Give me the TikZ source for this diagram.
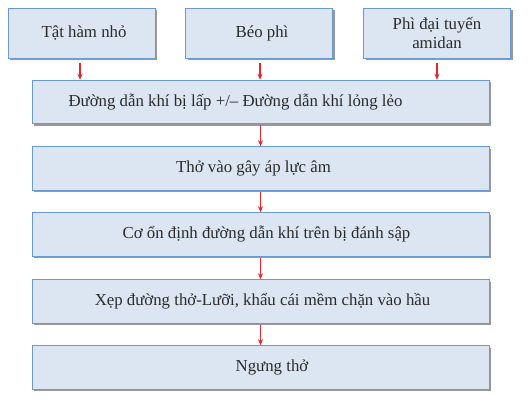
\documentclass[tikz,border=0pt]{standalone}
\usepackage{fontspec}
\setmainfont{Liberation Serif}
\usetikzlibrary{shadows,arrows.meta}
\definecolor{boxfill}{HTML}{DCE6F2}
\definecolor{boxline}{HTML}{6A9AD6}
\definecolor{txt}{HTML}{2A2A2A}
\definecolor{arr}{HTML}{E8252A}
\newcommand{\nudgetext}[2]{\hspace*{#1}#2}
\tikzset{
  flowbox/.style={draw=boxline, fill=boxfill, line width=1pt, inner sep=2pt,
    align=center, text=txt, font=\fontsize{16.8}{19}\selectfont,
    drop shadow={shadow xshift=2pt, shadow yshift=-2pt, fill=black!40, opacity=1}},
  topbox/.style={flowbox, minimum width=147pt, minimum height=50pt},
  rowbox/.style={flowbox, minimum width=457pt, minimum height=43.5pt},
  flowarrow/.style={draw=arr, line width=1.1pt, -{Stealth[length=6pt,width=5pt]}}
}
\begin{document}
\begin{tikzpicture}[x=1pt,y=-1pt]
\useasboundingbox (0,0) rectangle (531,400);
\node[topbox] (b1) at (81.5,33) {\nudgetext{5pt}{Tật hàm nhỏ}};
\node[topbox] (b2) at (259,33) {\nudgetext{6pt}{Béo phì}};
\node[topbox] (b3) at (437,33) {Phì đại tuyến\\amidan};
\node[rowbox] (r2) at (260.5,102) {\nudgetext{-50pt}{Đường dẫn khí bị lấp +/– Đường dẫn khí lỏng lẻo}};
\node[rowbox] (r3) at (260.5,168.5) {\nudgetext{-14pt}{Thở vào gây áp lực âm}};
\node[rowbox] (r4) at (260.5,234.5) {\nudgetext{12pt}{Cơ ổn định đường dẫn khí trên bị đánh sập}};
\node[rowbox] (r5) at (260.5,301.5) {\nudgetext{4pt}{Xẹp đường thở-Lưỡi, khẩu cái mềm chặn vào hầu}};
\node[rowbox] (r6) at (260.5,367.5) {\nudgetext{23pt}{Ngưng thở}};
\draw[flowarrow, shorten <=4pt] ([xshift=-1.5pt]b1.south) -- ([xshift=-1.5pt]b1.south |- r2.north);
\draw[flowarrow, shorten <=4pt] ([xshift=1pt]b2.south) -- ([xshift=1pt]b2.south |- r2.north);
\draw[flowarrow, shorten <=4pt] (b3.south) -- (b3.south |- r2.north);
\draw[flowarrow, shorten <=1pt] (r2.south) -- (r3.north);
\draw[flowarrow, shorten <=1pt] (r3.south) -- (r4.north);
\draw[flowarrow, shorten <=1pt] (r4.south) -- (r5.north);
\draw[flowarrow, shorten <=1pt] (r5.south) -- (r6.north);
\end{tikzpicture}
\end{document}
